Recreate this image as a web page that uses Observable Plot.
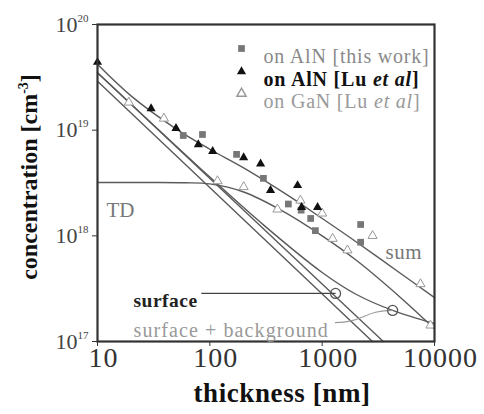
<!DOCTYPE html>
<html><head><meta charset="utf-8">
<script src="https://cdn.jsdelivr.net/npm/d3@7"></script>
<script src="https://cdn.jsdelivr.net/npm/@observablehq/plot@0.6"></script>
<style>body{margin:0;background:#fff}</style>
</head><body><div id="chart"></div>
<script>
// ---- tick labels ----
const xTicks = [10, 100, 1000, 10000];
const yTicks = [1e17, 1e18, 1e19, 1e20];
const yTickExp = ["17", "18", "19", "20"];

// ---- measured points ----
const thisWorkD = [58, 86, 173, 300, 500, 650, 790, 870, 2200, 2200];
const thisWorkN = [8.9e18, 9.1e18, 5.9e18, 3.5e18, 2.0e18, 1.75e18, 1.46e18, 1.12e18, 1.28e18, 8.7e17];
const luAlnD = [10, 30, 50, 79, 106, 200, 283, 347, 604, 656, 910];
const luAlnN = [4.4e19, 1.6e19, 1.04e19, 7.3e18, 6.3e18, 5.5e18, 4.8e18, 2.7e18, 3.0e18, 1.86e18, 1.86e18];
const luGanD = [19, 39, 117, 200, 400, 640, 1000, 1240, 1680, 2810, 7500, 9200];
const luGanN = [1.83e19, 1.29e19, 3.3e18, 2.9e18, 1.78e18, 2.16e18, 1.63e18, 9.4e17, 7.3e17, 1.0e18, 3.5e17, 1.42e17];

// ---- model curves ----
const sumD = [10, 20, 50, 100, 200, 500, 1000, 2000, 5000, 10000];
const sumN = [4.2e19, 2.1e19, 1.03e19, 6.6e18, 4.4e18, 2.4e18, 1.46e18, 8.8e17, 4.4e17, 2.6e17];
const tdD = [10, 30, 60, 100, 200, 430, 1000, 2000, 5000, 10000];
const tdN = [3.2e18, 3.2e18, 3.18e18, 3.1e18, 2.6e18, 1.75e18, 1.0e18, 5.9e17, 2.6e17, 1.32e17];
const surfaceD = [10, 3500];
const surfaceN = [3.5e19, 1e17];
const surface2D = [10, 2800];
const surface2N = [2.9e19, 1e17];
const surfBgD = [10, 100, 300, 1000, 2000, 4240, 10000];
const surfBgN = [3.5e19, 3.6e18, 1.27e18, 4.5e17, 2.8e17, 1.97e17, 1.48e17];
const markerD = [1316, 4240];
const markerN = [2.85e17, 1.97e17];

const pts = (D, N) => D.map((d, i) => ({d, n: N[i]}));
const serif = "Liberation Serif, Times New Roman, serif";
const lineStyle = {x: "d", y: "n", stroke: "#5a5a5a", strokeWidth: 1.4, curve: "catmull-rom"};

const legendRows = [
  {dy: 24, symbol: "square", fill: "#777", stroke: "none", r: 3.8, text: "on AlN [this work]", color: "#8a8a8a", weight: "normal"},
  {dy: 47, symbol: "triangle", fill: "#111", stroke: "none", r: 3.4, text: "on AlN [Lu et al]", color: "#111", weight: "bold"},
  {dy: 69, symbol: "triangle", fill: "white", stroke: "#999", r: 3.4, text: "on GaN [Lu et al]", color: "#9a9a9a", weight: "normal"}
];

const marks = [
  // curves
  Plot.line(pts(tdD, tdN), lineStyle),
  Plot.line(pts(sumD, sumN), lineStyle),
  Plot.line(pts(surfaceD, surfaceN), {...lineStyle, curve: "linear"}),
  Plot.line(pts(surface2D, surface2N), {...lineStyle, curve: "linear"}),
  Plot.line(pts(surfBgD, surfBgN), lineStyle),
  // leader lines
  Plot.link([{d: markerD[0], n: markerN[0]}], {x1: 84, x2: "d", y1: "n", y2: "n", stroke: "#444", strokeWidth: 1.2}),
  Plot.link([{d: markerD[1], n: markerN[1]}], {x1: 1300, y1: 1.51e17, x2: "d", y2: "n", stroke: "#999", strokeWidth: 1.2, curve: "bump-x"}),
  Plot.dot(pts(markerD, markerN), {x: "d", y: "n", r: 5, stroke: "#555", fill: "none", strokeWidth: 1.3}),
  // data points
  Plot.dot(pts(luGanD, luGanN), {x: "d", y: "n", symbol: "triangle", r: 3.4, fill: "white", stroke: "#999", strokeWidth: 1}),
  Plot.dot(pts(thisWorkD, thisWorkN), {x: "d", y: "n", symbol: "square", r: 3.8, fill: "#777"}),
  Plot.dot(pts(luAlnD, luAlnN), {x: "d", y: "n", symbol: "triangle", r: 3.4, fill: "#111"}),
  // frame
  Plot.frame({stroke: "#333", strokeWidth: 2.2}),
  // tick labels
  Plot.text(xTicks, {x: d => d, frameAnchor: "bottom", dy: 25, dx: 6, text: d => String(d), fontSize: 28, fill: "#333", fontFamily: serif}),
  Plot.text(yTicks, {y: d => d, frameAnchor: "left", dx: -9, textAnchor: "end", text: (d, i) => "10^" + yTickExp[i], fontSize: 22, fill: "#444", fontFamily: serif}),
  // axis titles
  Plot.text(["thickness [nm]"], {frameAnchor: "bottom", dx: 16, dy: 60, fontSize: 27, fontWeight: "bold", fill: "#111", fontFamily: serif}),
  Plot.text(["concentration [cm^-3]"], {frameAnchor: "left", textAnchor: "middle", dx: -68, dy: -6, rotate: -90, fontSize: 24, fontWeight: "bold", fill: "#111", fontFamily: serif}),
  // annotations
  Plot.text(["TD"], {frameAnchor: "top-left", dx: 9, dy: 178, textAnchor: "start", fontSize: 21, fill: "#777", fontFamily: serif}),
  Plot.text(["sum"], {frameAnchor: "top-left", dx: 288, dy: 220, textAnchor: "start", fontSize: 21, fill: "#777", fontFamily: serif}),
  Plot.text(["surface"], {frameAnchor: "top-left", dx: 36, dy: 269, textAnchor: "start", fontSize: 19.5, fontWeight: "bold", fill: "#222", fontFamily: serif}),
  Plot.text(["surface + background"], {frameAnchor: "top-left", dx: 36, dy: 298, textAnchor: "start", fontSize: 20, fill: "#999", fontFamily: serif}),
  // legend
  ...legendRows.map(r => Plot.dot([r], {frameAnchor: "top-left", dx: 144, dy: r.dy, symbol: r.symbol, r: r.r, fill: r.fill, stroke: r.stroke})),
  ...legendRows.map(r => Plot.text([r], {frameAnchor: "top-left", dx: 166, dy: r.dy, textAnchor: "start", text: "text", fontSize: 20, fill: r.color, fontWeight: r.weight, fontFamily: serif}))
];

const svg = Plot.plot({
  width: 484,
  height: 414,
  marginLeft: 97,
  marginRight: 50,
  marginTop: 24,
  marginBottom: 73,
  style: {background: "#fff", color: "#333", fontFamily: serif, overflow: "visible"},
  x: {type: "log", domain: [10, 10000], ticks: xTicks, tickSize: 5, tickFormat: () => "", label: null},
  y: {type: "log", domain: [1e17, 1e20], ticks: yTicks, tickSize: 5, tickFormat: () => "", label: null},
  marks
});

// letter spacing to match the wide glyphs of the reference
const spacing = new Map([
  ["10", 1], ["100", 1], ["1000", 1], ["10000", 1],
  ["on AlN [this work]", 0.8], ["on AlN [Lu et al]", 0.8], ["on GaN [Lu et al]", 0.8],
  ["surface + background", 1.1], ["surface", 0.5], ["thickness [nm]", 0.6], ["sum", 0.5]
]);

// rich text: superscripts and italics
d3.select(svg).selectAll("text").each(function () {
  const t = this.textContent;
  if (spacing.has(t)) this.setAttribute("letter-spacing", spacing.get(t));
  let m = t.match(/^10\^(\d+)$/);
  if (m) { this.innerHTML = `10<tspan font-size="11" dy="-10">${m[1]}</tspan>`; return; }
  if (t.includes("^-3")) { this.innerHTML = `concentration [cm<tspan font-size="14" dy="-9">-3</tspan><tspan dy="9">]</tspan>`; return; }
  if (t.includes("et al")) { this.innerHTML = t.replace("et al", `<tspan font-style="italic">et al</tspan>`); }
});

document.getElementById("chart").append(svg);
</script>
</body></html>
